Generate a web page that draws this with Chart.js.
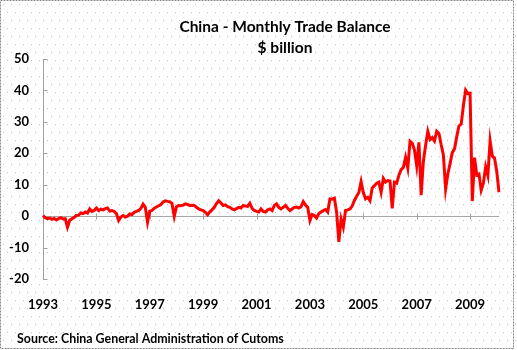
<!DOCTYPE html>
<html lang="en">
  <head>
    <meta charset="UTF-8" />
    <title>China - Monthly Trade Balance</title>
    <style>
      html,
      body {
        margin: 0;
        padding: 0;
        background: #fff;
      }
    </style>
  </head>
  <body>
    <canvas id="tradeChart" width="517" height="350"></canvas>

    <script src="https://cdn.jsdelivr.net/npm/chart.js@4.4.0/dist/chart.umd.min.js"></script>

    <!--Monthly balance, $ billion, Jan 1993 - Feb 2010-->
    <script>
      var startYear = 1993;
      var tickYears = ["1993", "1995", "1997", "1999", "2001", "2003", "2005", "2007", "2009"];
      var yTicks = [-20, -10, 0, 10, 20, 30, 40, 50];

      var balance = [
        // 1993
        0.2, -0.5, -0.8, -0.6, -1.0, -0.7, -1.2, -0.8, -0.5, -0.9, -0.8, -3.5,
        // 1994
        -1.3, -0.8, -0.4, 0.2, 0.3, 1.0, 0.8, 1.3, 1.0, 2.3, 1.5, 1.8,
        // 1995
        2.6, 1.8, 2.2, 2.0, 2.4, 2.6, 1.6, 1.8, 1.5, 0.8, -1.4, -0.3,
        // 1996
        0.2, -0.3, 0.0, 0.7, 0.5, 1.2, 1.5, 1.8, 2.5, 3.8, 2.8, -1.9,
        // 1997
        1.6, 1.8, 2.5, 2.9, 3.3, 3.7, 4.5, 4.9, 4.7, 4.6, 4.0, -0.1,
        // 1998
        3.0, 3.4, 3.3, 3.5, 3.9, 3.7, 3.4, 3.5, 3.4, 2.8, 2.3, 2.0,
        // 1999
        1.8, 1.2, 0.4, 1.4, 2.0, 2.8, 4.0, 4.9, 4.2, 3.4, 3.6, 3.0,
        // 2000
        2.8, 2.3, 2.0, 2.4, 2.8, 2.6, 3.4, 3.2, 3.1, 4.1, 2.5, 1.8,
        // 2001
        1.5, 1.3, 2.3, 1.5, 1.3, 2.0, 2.3, 1.8, 3.4, 3.9, 2.8, 2.3,
        // 2002
        2.8, 3.4, 2.5, 1.8, 2.3, 2.8, 2.9, 2.6, 3.0, 4.6, 3.5, 2.8,
        // 2003
        -1.4, 0.5, 0.2, -0.6, 0.8, 1.3, 1.8, 2.1, 1.3, 5.5, 5.4, 5.7,
        // 2004
        1.3, -8.2, -0.9, -3.5, 1.8, 2.0, 2.3, 3.2, 5.0, 6.3, 7.5, 11.0,
        // 2005
        7.5, 5.5, 6.0, 4.9, 9.0, 9.7, 10.5, 10.8, 7.6, 12.0, 10.8, 11.3,
        // 2006
        11.2, 2.5, 10.8, 10.5, 13.0, 14.8, 15.5, 18.7, 15.3, 23.8, 23.2, 21.0,
        // 2007
        16.0, 23.5, 6.7, 17.5, 22.5, 27.0, 24.4, 25.0, 23.9, 27.0, 26.3, 22.7,
        // 2008
        19.5, 8.6, 13.4, 16.7, 20.2, 21.4, 25.3, 28.7, 29.3, 35.2, 40.1, 39.0,
        // 2009
        39.1, 4.8, 18.6, 13.1, 13.4, 8.3, 10.6, 15.7, 12.9, 24.0, 19.1, 18.4,
        // 2010
        14.2, 7.6,
      ];

      // one category per month, named "YYYY-MM"
      var months = [];
      for (var i = 0; i < balance.length; i++) {
        var yr = startYear + Math.floor(i / 12);
        var mo = (i % 12) + 1;
        months.push(yr + "-" + (mo < 10 ? "0" + mo : mo));
      }
    </script>

    <script>
      var W = 517;
      var H = 350;
      var FONT = "Lato, 'Open Sans', sans-serif";

      // dotted paper background, frame, titles and the small axis ticks
      var decor = {
        id: "decor",
        beforeDraw: function (chart) {
          var ctx = chart.ctx;
          ctx.save();
          ctx.fillStyle = "#fff";
          ctx.fillRect(0, 0, W, H);
          ctx.fillStyle = "#c0c0c0";
          for (var y = 4, row = 0; y < H; y += 8, row++) {
            for (var x = 3 + (row % 2) * 4; x < W; x += 8) {
              ctx.fillRect(x, y, 1, 1);
            }
          }
          ctx.restore();
        },
        beforeDatasetsDraw: function (chart) {
          var ctx = chart.ctx;
          var xs = chart.scales.x;
          var ys = chart.scales.y;
          var zero = Math.round(ys.getPixelForValue(0)) + 0.5;
          ctx.save();
          ctx.strokeStyle = "#a0a0a0";
          ctx.lineWidth = 1;
          ctx.beginPath();
          months.forEach(function (m, i) {
            if (tickYears.indexOf(m.slice(0, 4)) >= 0 && m.slice(5) === "01") {
              var px = Math.round(xs.getPixelForValue(i)) + 0.5;
              ctx.moveTo(px, zero - 3);
              ctx.lineTo(px, zero + 3);
            }
          });
          var left = Math.round(chart.chartArea.left) + 0.5;
          yTicks.forEach(function (v) {
            var py = Math.round(ys.getPixelForValue(v)) + 0.5;
            ctx.moveTo(left, py);
            ctx.lineTo(left + 4, py);
          });
          ctx.stroke();
          ctx.restore();
        },
        afterDraw: function (chart) {
          var ctx = chart.ctx;
          ctx.save();
          ctx.fillStyle = "#000";
          ctx.textAlign = "center";
          ctx.textBaseline = "alphabetic";
          ctx.font = "bold 15.5px " + FONT;
          ctx.fillText("China - Monthly Trade Balance", 285, 32);
          ctx.fillText("$ billion", 285, 53);

          ctx.textAlign = "left";
          ctx.font = "bold 12.4px " + FONT;
          ctx.fillText("Source: China General Administration of Cutoms", 17, 343);

          ctx.strokeStyle = "#8a8a8a";
          ctx.lineWidth = 1;
          ctx.setLineDash([2, 1]);
          ctx.strokeRect(0.5, 0.5, 513, 348);
          ctx.restore();
        },
      };

      var ctx = document.getElementById("tradeChart").getContext("2d");
      var tradeChart = new Chart(ctx, {
        type: "line",
        data: {
          labels: months,
          datasets: [
            {
              data: balance,
              borderColor: "#ff0000",
              borderWidth: 3,
              pointRadius: 0,
              tension: 0,
              fill: false,
            },
          ],
        },
        options: {
          responsive: false,
          animation: false,
          devicePixelRatio: 1,
          layout: { padding: { top: 59, right: 16, left: 0, bottom: 0 } },
          plugins: {
            legend: { display: false },
            title: { display: false },
            tooltip: { enabled: false },
          },
          scales: {
            x: {
              type: "category",
              offset: false,
              grid: { display: false, drawTicks: false },
              border: { display: false },
              afterFit: function (scale) {
                scale.height = 71;
              },
              ticks: {
                autoSkip: false,
                maxRotation: 0,
                padding: 18,
                color: "#000",
                font: { family: FONT, size: 13, weight: "bold" },
                callback: function (value, index) {
                  var m = months[index];
                  if (m.slice(5) === "01" && tickYears.indexOf(m.slice(0, 4)) >= 0) {
                    return m.slice(0, 4);
                  }
                  return "";
                },
              },
            },
            y: {
              min: -20,
              max: 50,
              afterFit: function (scale) {
                scale.width = 43;
              },
              afterBuildTicks: function (scale) {
                scale.ticks = yTicks.map(function (v) {
                  return { value: v };
                });
              },
              grid: {
                drawTicks: false,
                color: function (c) {
                  return c.tick && c.tick.value === 0 ? "#a6a6a6" : "rgba(0,0,0,0)";
                },
              },
              border: { display: true, color: "#a0a0a0" },
              ticks: {
                padding: 14,
                color: "#000",
                font: { family: FONT, size: 13, weight: "bold" },
              },
            },
          },
        },
        plugins: [decor],
      });
    </script>
  </body>
</html>
